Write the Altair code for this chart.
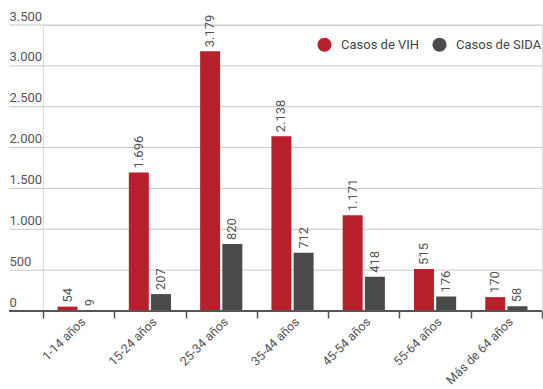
import altair as alt
import pandas as pd

groups = ["1-14 años", "15-24 años", "25-34 años", "35-44 años", "45-54 años", "55-64 años", "Más de 64 años"]
series = ["Casos de VIH", "Casos de SIDA"]
vih = [54, 1696, 3179, 2138, 1171, 515, 170]
sida = [9, 207, 820, 712, 418, 176, 58]
colors = ["#b8212b", "#4a4a4a"]
grid_values = [500, 1000, 1500, 2000, 2500, 3000, 3500]

rows = []
for g, a, b in zip(groups, vih, sida):
    rows.append({"grupo": g, "serie": series[0], "valor": a, "etiqueta": f"{a:,}".replace(",", ".")})
    rows.append({"grupo": g, "serie": series[1], "valor": b, "etiqueta": f"{b:,}".replace(",", ".")})
df = pd.DataFrame(rows)
grid_df = pd.DataFrame({"v": grid_values})
zero_df = pd.DataFrame({"v": [0]})

yscale = alt.Scale(domain=[0, 3500], nice=False)
xenc = alt.X("grupo:N", sort=groups, title=None,
             scale=alt.Scale(paddingInner=0, paddingOuter=0),
             axis=alt.Axis(labelAngle=-45, labelAlign="right", labelBaseline="top",
                           tickBand="extent", tickSize=7, tickColor="#555", tickWidth=1.5,
                           domain=False, labelPadding=-3, labelFontSize=12.5,
                           labelColor="#555", labelFont="Roboto"))
xoff = alt.XOffset("serie:N", sort=series,
                   scale=alt.Scale(paddingInner=0.1, paddingOuter=0.655))

grid = alt.Chart(grid_df).mark_rule(color="#c8c8c8", strokeWidth=1).encode(
    x=alt.value(-34), x2=alt.value(499),
    y=alt.Y("v:Q", scale=yscale),
)

bars = alt.Chart(df).mark_bar().encode(
    x=xenc,
    xOffset=xoff,
    y=alt.Y("valor:Q", scale=yscale, title=None,
            axis=alt.Axis(values=[0] + grid_values, grid=False, domain=False, ticks=False,
                          tickSize=0, labelAlign="left", labelPadding=34,
                          labelBaseline="alphabetic", labelOffset=-5,
                          labelFontSize=13, labelColor="#555", labelFont="Roboto",
                          labelExpr="replace(format(datum.value, ','), ',', '.')")),
    color=alt.Color("serie:N", sort=series,
                    scale=alt.Scale(domain=series, range=colors),
                    legend=alt.Legend(title=None, orient="none", legendX=274, legendY=12,
                                      direction="horizontal", symbolType="circle",
                                      symbolSize=200, symbolStrokeWidth=0,
                                      labelFontSize=13, labelColor="#444",
                                      labelFont="Roboto", labelOffset=9,
                                      columnPadding=12, padding=0)),
)

labels = alt.Chart(df).mark_text(angle=270, align="left", baseline="middle", dx=4,
                                 fontSize=13, color="#555", font="Roboto").encode(
    x=alt.X("grupo:N", sort=groups),
    xOffset=xoff,
    y=alt.Y("valor:Q", scale=yscale),
    text="etiqueta:N",
)

baseline = alt.Chart(zero_df).mark_rule(color="#555", strokeWidth=2).encode(
    x=alt.value(-34), x2=alt.value(499),
    y=alt.Y("v:Q", scale=yscale),
)

chart = alt.layer(grid, bars, labels, baseline).properties(
    width=499, height=286,
    autosize=alt.AutoSizeParams(type="none"),
    padding={"left": 43, "top": 25, "right": 1, "bottom": 78},
).configure_view(stroke=None).configure(font="Roboto")

chart.save("out.html", embed_options={"renderer": "svg", "actions": False})
